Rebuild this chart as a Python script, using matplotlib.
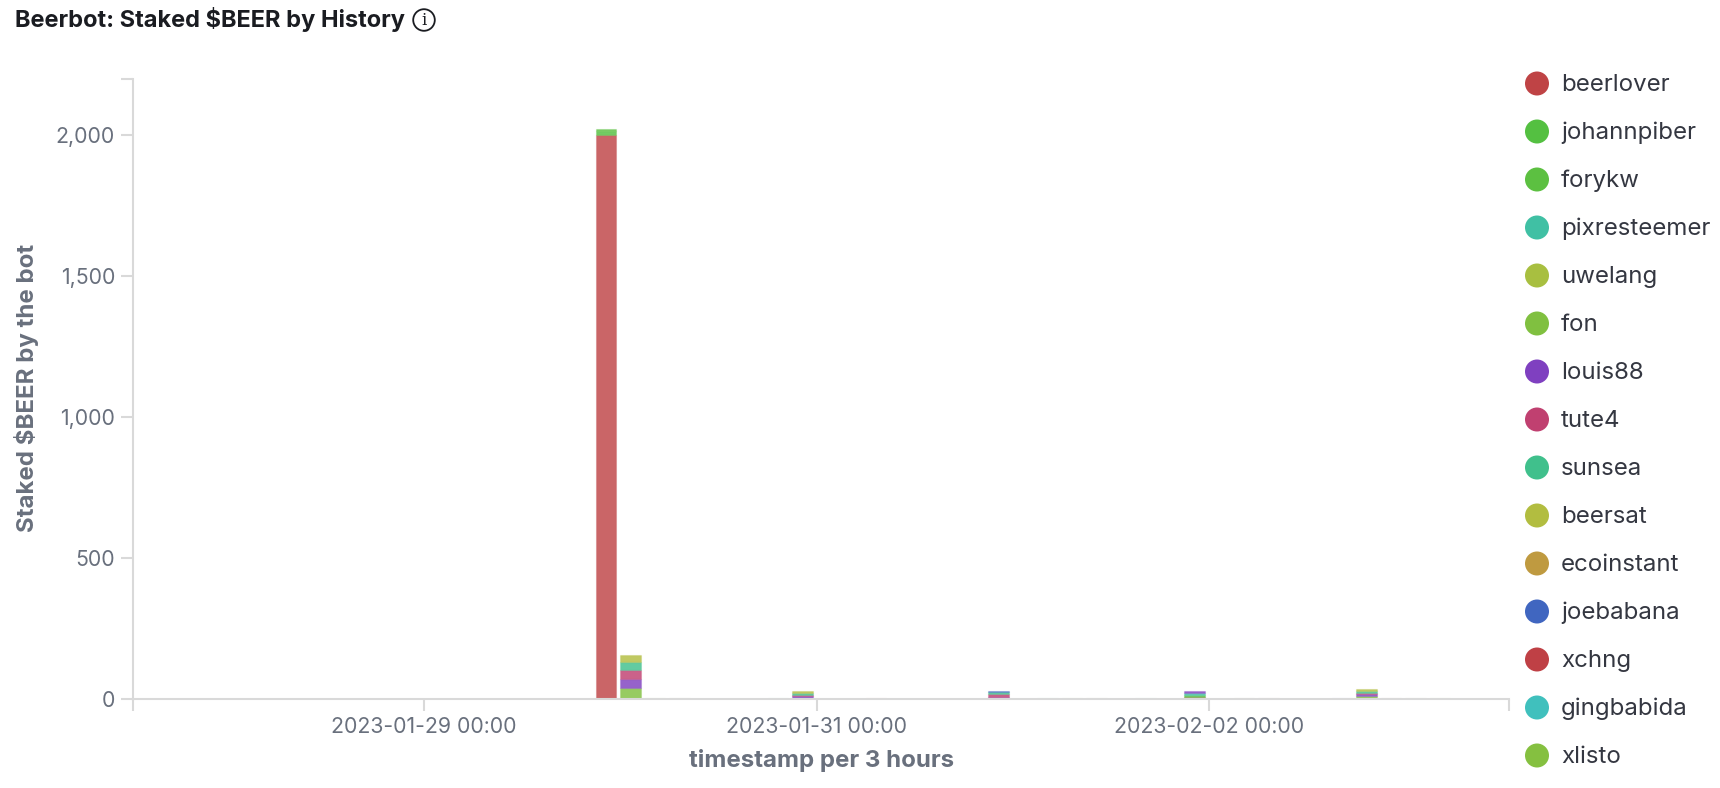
import matplotlib
matplotlib.use("Agg")
import matplotlib.pyplot as plt
import matplotlib.dates as mdates
from matplotlib.colors import to_rgb
from matplotlib.patches import Circle
import numpy as np
import pandas as pd

plt.rcParams['font.family'] = ['Inter', 'DejaVu Sans']

# inicio de cada intervalo de 3 horas
bins = pd.to_datetime([
    '2023-01-29 21:00', '2023-01-30 00:00', '2023-01-30 03:00', '2023-01-30 06:00',
    '2023-01-30 18:00', '2023-01-30 21:00', '2023-01-31 06:00', '2023-01-31 21:00',
    '2023-02-01 03:00', '2023-02-01 06:00', '2023-02-01 09:00', '2023-02-01 15:00',
    '2023-02-01 21:00', '2023-02-02 03:00', '2023-02-02 06:00', '2023-02-02 15:00',
    '2023-02-02 18:00', '2023-02-02 21:00', '2023-02-03 00:00', '2023-02-03 03:00',
])

beerlover   = [2000, 0, 0, 0, 0, 0, 0, 0, 0, 0, 0, 0, 7, 0, 0, 0, 0, 2, 0, 0]
johannpiber = [15, 0, 0, 0, 0, 0, 0, 0, 0, 0, 0, 0, 7, 0, 0, 0, 0, 0, 0, 0]
forykw      = [5, 0, 0, 0, 0, 0, 0, 0, 0, 0, 0, 0, 0, 0, 0, 0, 0, 0, 0, 0]
pixresteemer = [0, 0, 0, 0, 0, 0, 0, 0, 0, 0, 0, 0, 7, 0, 0, 0, 0, 0, 0, 0]
uwelang     = [0, 0, 0, 2, 0, 0, 0, 0, 0, 0, 0, 0, 0, 0, 0, 0, 0, 0, 2, 0]
fon         = [0, 38, 2, 0, 0, 0, 0, 0, 0, 2, 0, 0, 0, 0, 0, 0, 10, 0, 0, 2]
louis88     = [0, 34, 0, 0, 0, 9, 0, 8, 0, 0, 0, 0, 7, 0, 0, 0, 6, 0, 0, 0]
tute4       = [0, 32, 0, 0, 0, 6, 2, 8, 0, 0, 0, 0, 0, 0, 0, 0, 6, 0, 0, 0]
sunsea      = [0, 27, 0, 0, 0, 6, 0, 8, 2, 0, 0, 2, 0, 0, 0, 0, 6, 0, 0, 0]
beersat     = [0, 24, 0, 0, 0, 7, 0, 0, 0, 0, 0, 0, 0, 2, 0, 0, 6, 0, 0, 0]
ecoinstant  = [0, 0, 0, 0, 0, 0, 0, 0, 0, 0, 2, 0, 0, 0, 0, 0, 0, 0, 0, 0]
joebabana   = [0, 0, 0, 0, 0, 0, 0, 6, 0, 0, 0, 0, 0, 0, 0, 2, 0, 0, 0, 0]
xchng       = [0, 0, 0, 0, 0, 0, 0, 0, 0, 0, 0, 0, 0, 0, 2, 0, 0, 0, 0, 0]
gingbabida  = [0, 0, 0, 0, 2, 0, 0, 0, 0, 0, 0, 0, 0, 0, 0, 0, 0, 0, 0, 0]
xlisto      = [0, 0, 0, 0, 0, 0, 0, 0, 0, 0, 0, 0, 0, 0, 0, 0, 0, 0, 0, 0]

nomes = ['beerlover', 'johannpiber', 'forykw', 'pixresteemer', 'uwelang', 'fon', 'louis88', 'tute4',
         'sunsea', 'beersat', 'ecoinstant', 'joebabana', 'xchng', 'gingbabida', 'xlisto']
valores = [beerlover, johannpiber, forykw, pixresteemer, uwelang, fon, louis88, tute4,
           sunsea, beersat, ecoinstant, joebabana, xchng, gingbabida, xlisto]
cores = ['#bf4345', '#54c041', '#5cc041', '#40c0a4', '#a8bf40', '#80c040', '#7f40c0', '#c04070',
         '#40c08c', '#b2bd40', '#bf9a40', '#4066c0', '#bf4045', '#40c0bd', '#85c040']

y_ticks = [0, 500, 1000, 1500, 2000]
y_labels = ['0', '500', '1,000', '1,500', '2,000']
x_ticks = pd.to_datetime(['2023-01-29 00:00', '2023-01-31 00:00', '2023-02-02 00:00'])

COR_EIXO = '#d9d9d9'
COR_TEXTO = '#69707d'

W, H = 1720, 788
fig = plt.figure(figsize=(W / 100, H / 100), dpi=100)
ax = fig.add_axes([133 / W, (H - 699) / H, (1509 - 133) / W, (699 - 79) / H])

# barras empilhadas
x = mdates.date2num(bins)
largura = 20.5 / 196.25
base = np.zeros(len(x))
for nome, vals, cor in zip(nomes, valores, cores):
    vals = np.array(vals, dtype=float)
    m = vals > 0
    if m.any():
        r, g, b = to_rgb(cor)
        ax.bar(x[m], vals[m], width=largura, bottom=base[m], align='edge',
               color=(r, g, b, 0.82), edgecolor=(r, g, b, 0.25), linewidth=0.8)
    base += vals

x_ini = mdates.date2num(pd.Timestamp('2023-01-27 12:23'))
x_fim = mdates.date2num(pd.Timestamp('2023-02-03 12:42'))
ax.set_xlim(x_ini, x_fim)
ax.set_ylim(0, 2199)

for lado in ['top', 'right']:
    ax.spines[lado].set_visible(False)
for lado in ['left', 'bottom']:
    ax.spines[lado].set_color(COR_EIXO)
    ax.spines[lado].set_linewidth(1.5)

# as marcas nas pontas dos eixos ficam sem texto
ax.set_xticks([x_ini] + list(mdates.date2num(x_ticks)) + [x_fim])
ax.set_xticklabels([''] + [d.strftime('%Y-%m-%d %H:%M') for d in x_ticks] + [''])
ax.set_yticks(y_ticks + [2199])
ax.set_yticklabels(y_labels + [''])
ax.tick_params(axis='both', length=8.5, width=1.5, color=COR_EIXO, labelcolor=COR_TEXTO,
               labelsize=15.3, pad=4.5)
ax.tick_params(axis='y', pad=4.5)

# camada em pixels para titulo e legenda
over = fig.add_axes([0, 0, 1, 1], facecolor='none')
over.set_xlim(0, W)
over.set_ylim(H, 0)
over.axis('off')

over.text(15, 19, 'Beerbot: Staked $BEER by History', fontsize=17, fontweight='bold',
          color='#1a1c21', va='center', ha='left')
over.add_patch(Circle((424, 20), 10.8, fill=False, edgecolor='#1a1c21', linewidth=1.3))
over.text(424, 20, 'i', fontsize=12, family='DejaVu Serif', color='#1a1c21', ha='center', va='center')

over.text(26.5, 388, 'Staked $BEER by the bot', fontsize=17.3, fontweight='bold', color=COR_TEXTO,
          rotation=90, ha='center', va='center')
over.text(822, 760, 'timestamp per 3 hours', fontsize=17.3, fontweight='bold', color=COR_TEXTO,
          ha='center', va='center')

for i, (nome, cor) in enumerate(zip(nomes, cores)):
    y = 83.5 + i * 48
    over.add_patch(Circle((1537, y), 12, facecolor=cor, edgecolor='none'))
    over.text(1561, y + 1.5, nome, fontsize=17.3, color='#343741', ha='left', va='center')

plt.savefig('out.png', dpi=100)
